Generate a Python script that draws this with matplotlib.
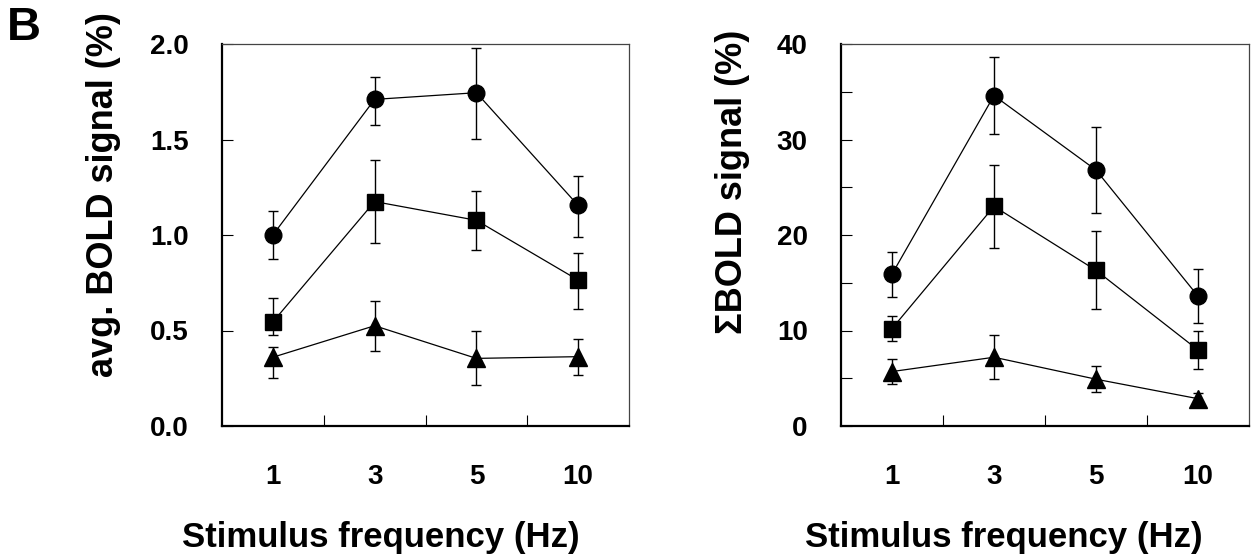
import matplotlib
matplotlib.use("Agg")
import matplotlib.pyplot as plt
import numpy as np

plt.rcParams['font.family'] = ['Liberation Sans', 'DejaVu Sans']
plt.rcParams['font.weight'] = 'bold'

# Data
freq_labels = ['1', '3', '5', '10']

# avg. BOLD signal (%)
avg_circle = [1.00, 1.71, 1.745, 1.155]
avg_circle_lo = [0.126, 0.135, 0.24, 0.165]
avg_circle_hi = [0.126, 0.115, 0.232, 0.155]
avg_square = [0.545, 1.175, 1.077, 0.764]
avg_square_lo = [0.07, 0.215, 0.157, 0.15]
avg_square_hi = [0.123, 0.22, 0.155, 0.143]
avg_tri = [0.36, 0.525, 0.354, 0.363]
avg_tri_lo = [0.108, 0.132, 0.14, 0.098]
avg_tri_hi = [0.051, 0.131, 0.141, 0.094]

# Sigma BOLD signal (%)
sum_circle = [15.9, 34.6, 26.8, 13.6]
sum_circle_err = [2.37, 4.0, 4.5, 2.85]
sum_square = [10.2, 23.0, 16.3, 7.96]
sum_square_err = [1.35, 4.35, 4.1, 2.0]
sum_tri = [5.7, 7.2, 4.9, 2.86]
sum_tri_err = [1.27, 2.3, 1.35, 0.6]

W, H = 1254, 559
fig = plt.figure(figsize=(W / 100, H / 100), dpi=100)


def px_axes(x0, x1, y0, y1):
    return fig.add_axes([x0 / W, 1 - y1 / H, (x1 - x0) / W, (y1 - y0) / H])


def draw_series(ax, y, lo, hi, marker, ms):
    x = np.arange(len(freq_labels))
    ax.errorbar(x, y, yerr=[lo, hi], fmt='none', ecolor='black',
                elinewidth=1.0, capsize=3.5, capthick=1.0, zorder=2)
    ax.plot(x, y, color='black', linewidth=0.9, marker=marker,
            markersize=ms, markerfacecolor='black', markeredgecolor='black',
            zorder=3)


def style_axes(ax):
    x = np.arange(len(freq_labels))
    ax.set_xlim(-0.5, len(freq_labels) - 0.5)
    ax.set_xticks(x)
    ax.set_xticklabels(freq_labels)
    ax.set_xticks(x[:-1] + 0.5, minor=True)
    ax.tick_params(axis='x', which='major', length=0, pad=27, labelsize=20)
    ax.tick_params(axis='x', which='minor', direction='in', length=8, width=0.8)
    ax.tick_params(axis='y', which='both', direction='in', length=8, width=0.8,
                   pad=24, labelsize=20)
    for side in ['left', 'bottom']:
        ax.spines[side].set_linewidth(1.6)
        ax.spines[side].set_color('black')
    for side in ['top', 'right']:
        ax.spines[side].set_linewidth(0.9)
        ax.spines[side].set_color('#444444')
    for lab in ax.get_xticklabels() + ax.get_yticklabels():
        lab.set_fontweight('bold')


# Left panel
ax1 = px_axes(222, 629, 44, 426)
draw_series(ax1, avg_circle, avg_circle_lo, avg_circle_hi, 'o', 12)
draw_series(ax1, avg_square, avg_square_lo, avg_square_hi, 's', 11.5)
draw_series(ax1, avg_tri, avg_tri_lo, avg_tri_hi, '^', 12.5)
ax1.set_ylim(0, 2.0)
ax1.set_yticks([0.0, 0.5, 1.0, 1.5, 2.0])
ax1.set_yticklabels(['0.0', '0.5', '1.0', '1.5', '2.0'])
style_axes(ax1)
ax1.set_ylabel('avg. BOLD signal (%)', fontsize=26, fontweight='bold', va='center')
ax1.yaxis.set_label_coords(-0.29, 0.607)
ax1.set_xlabel('Stimulus frequency (Hz)', fontsize=25, fontweight='bold',
               ha='left', va='baseline')
ax1.xaxis.set_label_coords(-0.098, -0.316)

# Right panel
ax2 = px_axes(841, 1249, 44, 426)
draw_series(ax2, sum_circle, sum_circle_err, sum_circle_err, 'o', 12)
draw_series(ax2, sum_square, sum_square_err, sum_square_err, 's', 11.5)
draw_series(ax2, sum_tri, sum_tri_err, sum_tri_err, '^', 12.5)
ax2.set_ylim(0, 40)
ax2.set_yticks([0, 10, 20, 30, 40])
ax2.set_yticks([5, 15, 25, 35], minor=True)
style_axes(ax2)
ax2.set_ylabel('\u03a3BOLD signal (%)', fontsize=26, fontweight='bold', va='center')
ax2.yaxis.set_label_coords(-0.265, 0.64)
ax2.set_xlabel('Stimulus frequency (Hz)', fontsize=25, fontweight='bold',
               ha='left', va='baseline')
ax2.xaxis.set_label_coords(-0.088, -0.316)

fig.text(7 / W, 1 - 6 / H, 'B', fontsize=34, fontweight='bold', ha='left', va='top')

fig.savefig('out.png', dpi=100)
